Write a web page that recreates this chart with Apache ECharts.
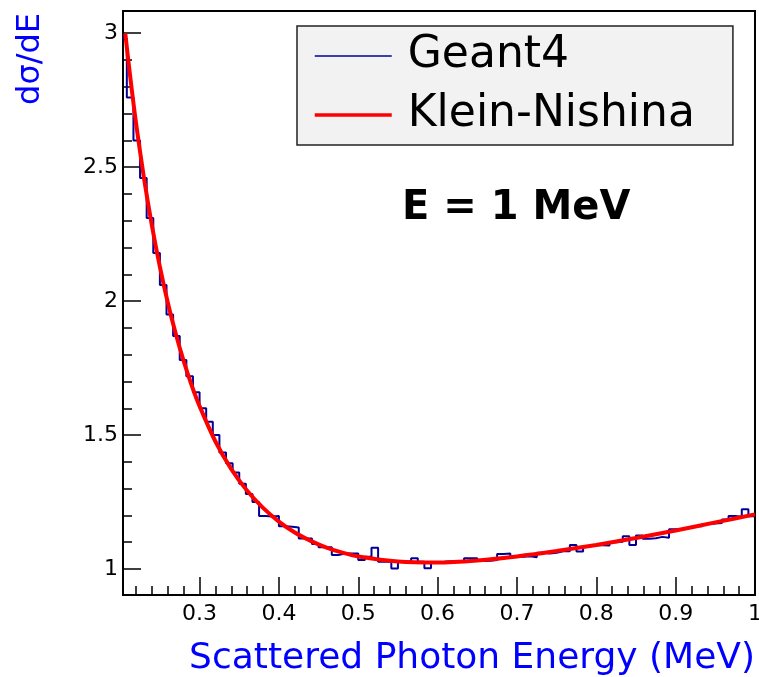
<!DOCTYPE html>
<html>
<head>
<meta charset="utf-8">
<title>Compton scattering, E = 1 MeV</title>
<script src="https://cdn.jsdelivr.net/npm/echarts@6/dist/echarts.min.js"></script>
<style>
  html, body { margin: 0; padding: 0; background: #fff; }
  #chart { width: 759px; height: 677px; }
</style>
</head>
<body>
<div id="chart"></div>
<script>
const fontFamily = 'DejaVu Sans';

// Geant4 histogram: 120 bins over 0..1 MeV, only the ones above 0.2 MeV are drawn
const histLow = 0.2;
const binWidth = 1 / 120;
const geant4Counts = [
    2.98, 2.76, 2.60, 2.46, 2.31, 2.18, 2.06, 1.95, 1.87, 1.78,
    1.72, 1.66, 1.60, 1.55, 1.50, 1.435, 1.395, 1.36, 1.318, 1.28,
    1.25, 1.198, 1.196, 1.198, 1.16, 1.158, 1.155, 1.114, 1.114, 1.093,
    1.081, 1.081, 1.052, 1.058, 1.058, 1.058, 1.034, 1.046, 1.079, 1.027,
    1.027, 1.002, 1.028, 1.028, 1.040, 1.027, 1.003, 1.026, 1.027, 1.029,
    1.027, 1.027, 1.040, 1.040, 1.030, 1.031, 1.034, 1.056, 1.058, 1.046,
    1.046, 1.048, 1.044, 1.061, 1.058, 1.061, 1.066, 1.066, 1.090, 1.065,
    1.085, 1.090, 1.089, 1.088, 1.100, 1.102, 1.122, 1.090, 1.125, 1.113,
    1.115, 1.120, 1.117, 1.148, 1.150, 1.155, 1.160, 1.160, 1.168, 1.170,
    1.172, 1.185, 1.198, 1.195, 1.223, 1.197
];

// Klein-Nishina curve
const knEnergy = [0.2064, 0.21, 0.215, 0.22, 0.23, 0.24, 0.25, 0.26, 0.27, 0.28,
    0.29, 0.30, 0.32, 0.34, 0.36, 0.38, 0.40, 0.42, 0.44, 0.46,
    0.48, 0.50, 0.55, 0.60, 0.65, 0.70, 0.75, 0.80, 0.85, 0.90, 0.95, 1.00];
const knValue = [2.999, 2.903, 2.779, 2.663, 2.458, 2.281, 2.128, 1.994, 1.878, 1.776,
    1.686, 1.608, 1.476, 1.373, 1.292, 1.228, 1.177, 1.136, 1.105, 1.080,
    1.061, 1.047, 1.028, 1.024, 1.032, 1.047, 1.067, 1.090, 1.116, 1.144, 1.174, 1.204];

// axis ticks
const xMajorTicks = [0.3, 0.4, 0.5, 0.6, 0.7, 0.8, 0.9, 1.0];
const xMinorTicks = [0.22, 0.24, 0.26, 0.28, 0.32, 0.34, 0.36, 0.38, 0.42, 0.44, 0.46, 0.48,
    0.52, 0.54, 0.56, 0.58, 0.62, 0.64, 0.66, 0.68, 0.72, 0.74, 0.76, 0.78,
    0.82, 0.84, 0.86, 0.88, 0.92, 0.94, 0.96, 0.98];
const yMajorTicks = [1, 1.5, 2, 2.5, 3];
const yMinorTicks = [1.1, 1.2, 1.3, 1.4, 1.6, 1.7, 1.8, 1.9, 2.1, 2.2, 2.3, 2.4,
    2.6, 2.7, 2.8, 2.9];

const xMin = 0.2035, xMax = 1.0;
const yMin = 0.903, yMax = 3.083;

let histPoints = geant4Counts.map(function (v, i) {
    return [histLow + i * binWidth, v];
});
histPoints.push([histLow + geant4Counts.length * binWidth, geant4Counts[geant4Counts.length - 1]]);

let knPoints = knEnergy.map(function (e, i) {
    return [e, knValue[i]];
});

const dom = document.getElementById('chart');
const myChart = echarts.init(dom, null, { renderer: 'canvas' });

const option = {
    animation: false,
    backgroundColor: '#ffffff',
    grid: {
        left: 123,
        right: 4,
        top: 11,
        bottom: 82,
        show: true,
        borderColor: '#000',
        borderWidth: 2,
        outerBoundsMode: 'none'
    },
    legend: {
        left: 297,
        top: 26,
        orient: 'vertical',
        backgroundColor: '#f2f2f2',
        borderColor: '#222',
        borderWidth: 1.5,
        padding: [5, 38, 5, 16],
        itemWidth: 77,
        itemHeight: 2,
        itemGap: 9,
        selectedMode: false,
        itemStyle: { opacity: 0 },
        textStyle: {
            fontFamily: fontFamily,
            fontSize: 44,
            color: '#000',
            lineHeight: 50,
            padding: [0, 0, 0, 11]
        },
        data: [
            { name: 'Geant4', lineStyle: { width: 1.5 } },
            { name: 'Klein-Nishina', lineStyle: { width: 3.5 } }
        ]
    },
    xAxis: [{
        type: 'value',
        min: xMin,
        max: xMax,
        splitLine: { show: false },
        axisLine: { onZero: false, lineStyle: { color: '#000', width: 2 } },
        axisTick: {
            inside: true,
            length: 18,
            customValues: xMajorTicks,
            lineStyle: { color: '#000', width: 1.5 }
        },
        axisLabel: {
            customValues: xMajorTicks,
            margin: 8,
            color: '#000',
            fontFamily: fontFamily,
            fontSize: 22
        }
    }, {
        type: 'value',
        min: xMin,
        max: xMax,
        position: 'bottom',
        splitLine: { show: false },
        axisLine: { show: false },
        axisLabel: { show: false },
        axisTick: {
            inside: true,
            length: 9,
            customValues: xMinorTicks,
            lineStyle: { color: '#000', width: 1.5 }
        }
    }],
    yAxis: [{
        type: 'value',
        min: yMin,
        max: yMax,
        splitLine: { show: false },
        axisLine: { show: true, onZero: false, lineStyle: { color: '#000', width: 2 } },
        axisTick: {
            show: true,
            inside: true,
            length: 18,
            customValues: yMajorTicks,
            lineStyle: { color: '#000', width: 1.5 }
        },
        axisLabel: {
            customValues: yMajorTicks,
            margin: 5,
            color: '#000',
            fontFamily: fontFamily,
            fontSize: 22
        }
    }, {
        type: 'value',
        min: yMin,
        max: yMax,
        position: 'left',
        splitLine: { show: false },
        axisLine: { show: false },
        axisLabel: { show: false },
        axisTick: {
            show: true,
            inside: true,
            length: 9,
            customValues: yMinorTicks,
            lineStyle: { color: '#000', width: 1.5 }
        }
    }],
    series: [{
        name: 'Geant4',
        type: 'line',
        step: 'end',
        symbol: 'none',
        clip: true,
        data: histPoints,
        itemStyle: { color: '#000099' },
        lineStyle: { color: '#000099', width: 2 }
    }, {
        name: 'Klein-Nishina',
        type: 'line',
        smooth: 0.3,
        symbol: 'none',
        clip: true,
        data: knPoints,
        itemStyle: { color: '#ff0000' },
        lineStyle: { color: '#ff0000', width: 4 }
    }],
    graphic: [{
        type: 'text',
        x: 31,
        y: 13,
        rotation: Math.PI / 2,
        style: {
            text: 'dσ/dE',
            fontFamily: fontFamily,
            fontSize: 32,
            fill: '#0000ff',
            align: 'right',
            verticalAlign: 'middle'
        }
    }, {
        type: 'text',
        x: 755,
        y: 659,
        style: {
            text: 'Scattered Photon Energy (MeV)',
            fontFamily: fontFamily,
            fontSize: 36,
            fill: '#0000ff',
            align: 'right',
            verticalAlign: 'middle'
        }
    }, {
        type: 'text',
        x: 402,
        y: 209,
        style: {
            text: 'E = 1 MeV',
            fontFamily: fontFamily,
            fontSize: 40,
            fontWeight: 'bold',
            fill: '#000',
            align: 'left',
            verticalAlign: 'middle'
        }
    }]
};

if (option && typeof option === 'object') {
    myChart.setOption(option, true);
}
</script>
</body>
</html>
